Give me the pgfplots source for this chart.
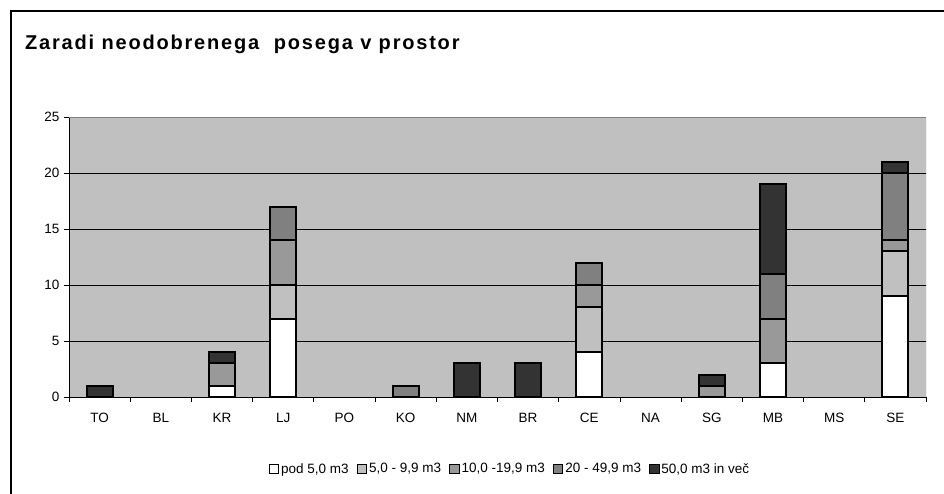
\documentclass[border=0pt]{standalone}
\usepackage{pgfplots}
\pgfplotsset{compat=1.18}
\usepackage{pgfplotstable}
\usepackage{fontspec}
\setmainfont{Liberation Sans}
\definecolor{bgc}{HTML}{C0C0C0}
\definecolor{sa}{HTML}{FFFFFF}
\definecolor{sb}{HTML}{C0C0C0}
\definecolor{sc}{HTML}{999999}
\definecolor{sd}{HTML}{808080}
\definecolor{se}{HTML}{333333}
\pgfplotstableread{
x a b c d e
0 0 0 0 0 1
1 0 0 0 0 0
2 1 0 2 0 1
3 7 3 4 3 0
4 0 0 0 0 0
5 0 0 0 1 0
6 0 0 0 0 3
7 0 0 0 0 3
8 4 4 2 2 0
9 0 0 0 0 0
10 0 0 1 0 1
11 3 0 4 4 8
12 0 0 0 0 0
13 9 4 1 6 1
}\datatab
\begin{document}
\begin{tikzpicture}[x=1pt,y=1pt]
\useasboundingbox (0,0) rectangle (944,494);
\draw[line width=1.8pt] (11,-20) -- (11,483) -- (960,483);
\node[anchor=base west,inner sep=0pt,font=\bfseries\fontsize{20}{23}\selectfont\addfontfeatures{LetterSpace=9}] at (25,444) {Zaradi neodobrenega\ \ posega v prostor};
\begin{axis}[
  at={(69pt,97pt)}, anchor=south west, scale only axis,
  width=857pt, height=280pt,
  xmin=-0.5, xmax=13.5, ymin=0, ymax=25,
  ybar stacked, bar width=26pt,
  axis background/.style={fill=bgc},
  axis lines*=left,
  axis line style={black, line width=0.9pt},
  xtick={-0.5,0.5,...,13.5},
  x tick label as interval,
  xticklabels={TO,BL,KR,LJ,PO,KO,NM,BR,CE,NA,SG,MB,MS,SE},
  ytick={0,5,...,25},
  ymajorgrids, grid style={black, line width=0.8pt},
  tick align=outside, major tick length=5pt,
  tick style={black, line width=0.8pt},
  ticklabel style={font=\fontsize{13.5}{16}\selectfont},
  /pgf/number format/assume math mode=true,
  xticklabel style={yshift=-8pt},
  yticklabel style={xshift=-1pt},
  legend style={at={(0.5146,-0.257)}, anchor=center, legend columns=5,
    draw=none, fill=none, font=\fontsize{13.5}{16}\selectfont,
    /tikz/every even column/.append style={column sep=6pt},
    /tikz/every odd column/.append style={column sep=0pt}},
  legend image code/.code={\draw[#1,draw=black,line width=0.9pt] (0pt,-4.5pt) rectangle (9.5pt,5pt);},
]
\addplot[fill=sa, draw=black, line width=1.9pt] table[x=x,y=a]{\datatab};
\addplot[fill=sb, draw=black, line width=1.9pt] table[x=x,y=b]{\datatab};
\addplot[fill=sc, draw=black, line width=1.9pt] table[x=x,y=c]{\datatab};
\addplot[fill=sd, draw=black, line width=1.9pt] table[x=x,y=d]{\datatab};
\addplot[fill=se, draw=black, line width=1.9pt] table[x=x,y=e]{\datatab};
\legend{pod 5{,}0 m3,5{,}0 - 9{,}9 m3,10{,}0 -19{,}9 m3,20 - 49{,}9 m3,50{,}0 m3 in več}
\draw[color=sd, line width=0.9pt] (rel axis cs:0,1) -- (rel axis cs:1,1) -- (rel axis cs:1,0);
\end{axis}
\end{tikzpicture}
\end{document}
